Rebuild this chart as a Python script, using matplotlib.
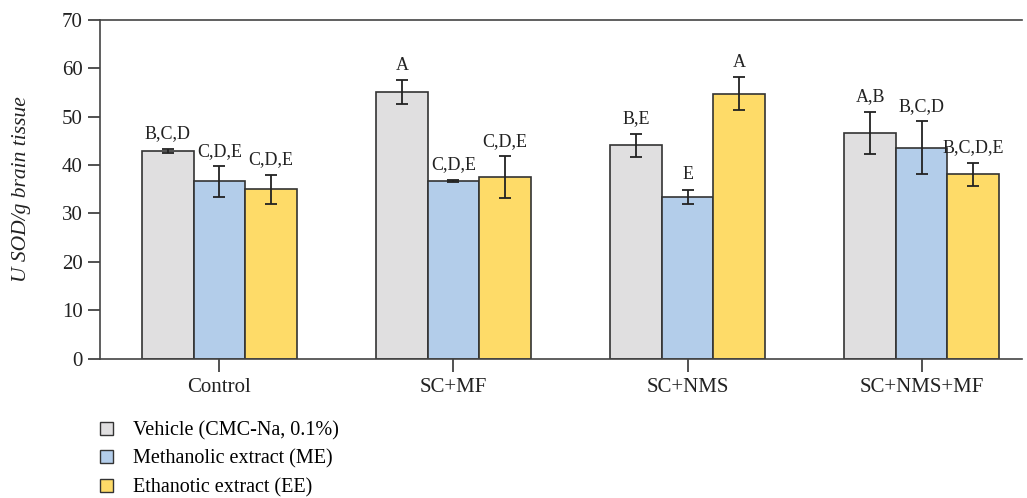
import numpy as np
import matplotlib
matplotlib.use('Agg')
import matplotlib.pyplot as plt
from matplotlib.patches import Patch

plt.rcParams['font.family'] = ['Liberation Serif', 'DejaVu Serif']

groups = ['Control', 'SC+MF', 'SC+NMS', 'SC+NMS+MF']
series = ['Vehicle (CMC-Na, 0.1%)', 'Methanolic extract (ME)', 'Ethanotic extract (EE)']
vehicle = [42.9, 55.1, 44.1, 46.6]
vehicle_err = [0.5, 2.5, 2.4, 4.4]
methanolic = [36.6, 36.7, 33.4, 43.6]
methanolic_err = [3.2, 0.3, 1.5, 5.5]
ethanolic = [35.0, 37.5, 54.7, 38.1]
ethanolic_err = [3.0, 4.3, 3.4, 2.4]
letters = [['B,C,D', 'A', 'B,E', 'A,B'],
           ['C,D,E', 'C,D,E', 'E', 'B,C,D'],
           ['C,D,E', 'C,D,E', 'A', 'B,C,D,E']]
colors = ['#e0dfe0', '#b3cdea', '#fedb68']

values = [vehicle, methanolic, ethanolic]
errors = [vehicle_err, methanolic_err, ethanolic_err]

fig = plt.figure(figsize=(10.27, 4.98), dpi=100)
ax = fig.add_axes([0.0974, 0.28, 0.898, 0.68])

x = np.arange(len(groups))
width = 0.22
for i in range(3):
    pos = x + (i - 1) * width
    ax.bar(pos, values[i], width, color=colors[i], edgecolor='#333333',
           linewidth=1.2, zorder=2)
    ax.errorbar(pos, values[i], yerr=errors[i], fmt='none', ecolor='#222222',
                elinewidth=1.3, capsize=4, capthick=1.3, zorder=3)
    for j in range(len(groups)):
        ax.text(pos[j], values[i][j] + errors[i][j] + 1.3, letters[i][j],
                ha='center', va='bottom', fontsize=13, color='#222222')

ax.set_xlim(-0.51, 3.43)
ax.set_ylim(0, 70)
ax.set_yticks(np.arange(0, 71, 10))
ax.set_xticks(x)
ax.set_xticklabels(groups)
ax.tick_params(axis='both', labelsize=15, direction='out', length=9,
               width=1.2, color='#333333', labelcolor='#222222')
ax.tick_params(axis='x', pad=5)
ax.spines['right'].set_visible(False)
for s in ['left', 'top', 'bottom']:
    ax.spines[s].set_linewidth(1.2)
    ax.spines[s].set_color('#444444')
ax.set_ylabel('U SOD/g brain tissue', fontsize=15.5, style='italic',
              color='#222222', labelpad=22)

handles = [Patch(facecolor=c, edgecolor='#333333', linewidth=1.0) for c in colors]
fig.legend(handles, series, loc='upper left', bbox_to_anchor=(0.09, 0.17),
           frameon=False, fontsize=14.5, handlelength=0.6, handleheight=0.6,
           handletextpad=1.0, labelspacing=0.45, borderaxespad=0)

fig.savefig('out.png', dpi=100)
